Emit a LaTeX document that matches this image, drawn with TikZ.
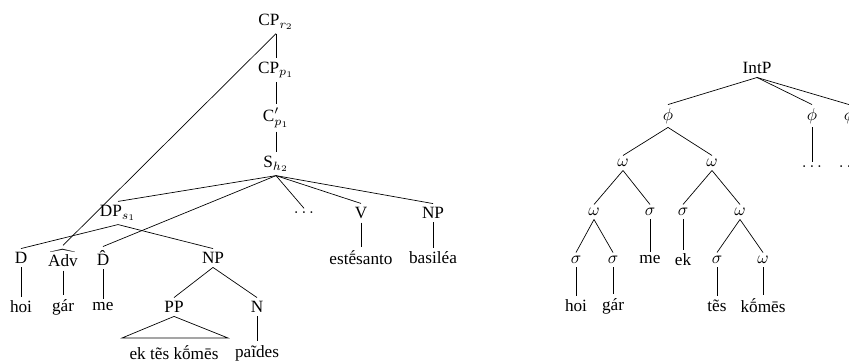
\documentclass[tikz,border=0pt]{standalone}
\usepackage{fontspec}
\setmainfont{Liberation Serif}
\begin{document}
\begin{tikzpicture}[x=0.581pt, y=-0.581pt, every node/.style={inner sep=2pt}]
\useasboundingbox (0,0) rectangle (849,362);
% syntactic tree
\node (cpr) at (276,22) {CP$_{r_2}$};
\node (cpp) at (276,70) {CP$_{p_1}$};
\node (cbar) at (276,118) {C$'_{p_1}$};
\node (s) at (276,164) {S$_{h_2}$};
\node (dp) at (118,213) {DP$_{s_1}$};
\node (dots) at (304,213) {$\dots$};
\node (v) at (361,213) {V};
\node (np) at (433,213) {NP};
\node (d) at (21,258) {D};
\node (adv) at (63,258) {$\widehat{\mbox{Adv}}$};
\node (dhat) at (103,258) {\^D};
\node (npb) at (213,258) {NP};
\node (verb) at (361,258) {estḗsanto};
\node (noun) at (433,258) {basiléa};
\node (hoi) at (21,307) {hoi};
\node (gar) at (63,307) {gár};
\node (me) at (103,307) {me};
\node (pp) at (174,307) {PP};
\node (n) at (257,307) {N};
\node (ek) at (174,353) {ek tẽs kṓmēs};
\node (paides) at (257,353) {paĩdes};
\coordinate (tl) at (122,338);
\coordinate (tr) at (228,338);
\draw (cpr) -- (cpp);
\draw (cpp) -- (cbar);
\draw (cbar) -- (s);
\draw (cpr.south) -- (adv.north);
\draw (s.south) -- (dp.north);
\draw (s.south) -- (dhat.north);
\draw (s.south) -- (dots.north);
\draw (s.south) -- (v.north);
\draw (s.south) -- (np.north);
\draw (dp.south) -- (d.north);
\draw (dp.south) -- (npb.north);
\draw (v) -- (verb);
\draw (np) -- (noun);
\draw (d) -- (hoi);
\draw (adv) -- (gar);
\draw (dhat) -- (me);
\draw (npb.south) -- (pp.north);
\draw (npb.south) -- (n.north);
\draw (pp.south) -- (tl) -- (tr) -- cycle;
\draw (n) -- (paides);
% prosodic tree
\node (intp) at (757,68) {IntP};
\node (phia) at (668,116) {$\phi$};
\node (phib) at (812,116) {$\phi$};
\node (phic) at (849,116) {$\phi$};
\node (dotsb) at (812,167) {$\dots$};
\node (dotsc) at (849,167) {$\dots$};
\node (wa) at (623,163) {$\omega$};
\node (wb) at (712,163) {$\omega$};
\node (wc) at (594,212) {$\omega$};
\node (sa) at (650,212) {$\sigma$};
\node (sb) at (683,212) {$\sigma$};
\node (wd) at (740,212) {$\omega$};
\node (sc) at (576,260) {$\sigma$};
\node (sd) at (613,260) {$\sigma$};
\node (mea) at (650,260) {me};
\node (eka) at (683,260) {ek};
\node (se) at (717,260) {$\sigma$};
\node (we) at (763,260) {$\omega$};
\node (hoia) at (576,306) {hoi};
\node (gara) at (613,306) {gár};
\node (tes) at (717,306) {tẽs};
\node (komes) at (763,306) {kṓmēs};
\draw (intp.south) -- (phia.north);
\draw (intp.south) -- (phib.north);
\draw (intp.south) -- (phic.north);
\draw (phib) -- (dotsb);
\draw (phic) -- (dotsc);
\draw (phia.south) -- (wa.north);
\draw (phia.south) -- (wb.north);
\draw (wa.south) -- (wc.north);
\draw (wa.south) -- (sa.north);
\draw (wb.south) -- (sb.north);
\draw (wb.south) -- (wd.north);
\draw (wc.south) -- (sc.north);
\draw (wc.south) -- (sd.north);
\draw (sa) -- (mea);
\draw (sb) -- (eka);
\draw (wd.south) -- (se.north);
\draw (wd.south) -- (we.north);
\draw (sc) -- (hoia);
\draw (sd) -- (gara);
\draw (se) -- (tes);
\draw (we) -- (komes);
\end{tikzpicture}
\end{document}
